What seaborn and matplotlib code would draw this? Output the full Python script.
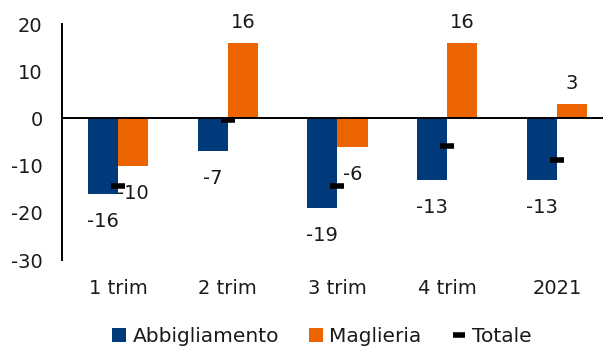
import matplotlib
matplotlib.use("Agg")
import matplotlib.pyplot as plt
from matplotlib.patches import Patch
from matplotlib.lines import Line2D
import seaborn as sns
import pandas as pd

categories = ["1 trim", "2 trim", "3 trim", "4 trim", "2021"]
abbigliamento = [-16, -7, -19, -13, -13]
maglieria = [-10, 16, -6, 16, 3]
totale = [-14.3, -0.3, -14.3, -5.8, -8.8]
series_names = ["Abbigliamento", "Maglieria", "Totale"]
yticks = [20, 10, 0, -10, -20, -30]

blue = "#013A7B"
orange = "#EC6400"
text_color = "#1a1a1a"

sns.set_theme(style="white")
plt.rcParams["font.family"] = ["DejaVu Sans"]
plt.rcParams["text.color"] = text_color

df = pd.DataFrame({
    "periodo": categories * 2,
    "valore": abbigliamento + maglieria,
    "serie": [series_names[0]] * len(categories) + [series_names[1]] * len(categories),
})

fig = plt.figure(figsize=(6.03, 3.46), dpi=100)
ax = fig.add_axes([62 / 603, 1 - 260 / 346, 1 - 62 / 603, (260 - 24) / 346])

sns.barplot(data=df, x="periodo", y="valore", hue="serie", order=categories,
            hue_order=series_names[:2], palette=[blue, orange], saturation=1,
            width=0.55, gap=0, edgecolor="none", ax=ax, legend=False)

# value labels just outside the end of each bar
for container in ax.containers:
    for bar in container:
        h = bar.get_height()
        cx = bar.get_x() + bar.get_width() / 2
        if h >= 0:
            ax.annotate(f"{h:.0f}", (cx, h), xytext=(0, 8), textcoords="offset points",
                        ha="center", va="bottom", fontsize=14, color=text_color)
        else:
            ax.annotate(f"{h:.0f}", (cx, h), xytext=(0, -13), textcoords="offset points",
                        ha="center", va="top", fontsize=14, color=text_color)

# total shown as a short black dash per period
sns.pointplot(x=categories, y=totale, order=categories, color="black",
              linestyle="none", marker="_", markersize=10, markeredgewidth=4,
              errorbar=None, ax=ax)

ax.axhline(0, color="black", lw=1.4, zorder=3)
ax.set_ylim(-30, 20)
ax.set_xlim(-0.51, 4.42)
ax.set_yticks(yticks)
ax.set_yticklabels([str(v) for v in yticks])
ax.set_xlabel("")
ax.set_ylabel("")
for side in ["top", "right", "bottom"]:
    ax.spines[side].set_visible(False)
ax.spines["left"].set_color("black")
ax.spines["left"].set_linewidth(1.4)
ax.tick_params(axis="both", length=0, labelsize=14, colors=text_color)
ax.tick_params(axis="x", pad=14)
ax.tick_params(axis="y", pad=14)

handles = [
    Patch(facecolor=blue, edgecolor="none"),
    Patch(facecolor=orange, edgecolor="none"),
    Line2D([], [], color="black", marker="_", linestyle="none",
           markersize=8, markeredgewidth=4),
]
fig.legend(handles, series_names, loc="center", bbox_to_anchor=(0.534, 0.028),
           ncol=3, frameon=False, fontsize=14.5, handlelength=0.7,
           handleheight=0.7, handletextpad=0.3, columnspacing=1.5,
           labelcolor=text_color)

fig.savefig("out.png", dpi=100)
